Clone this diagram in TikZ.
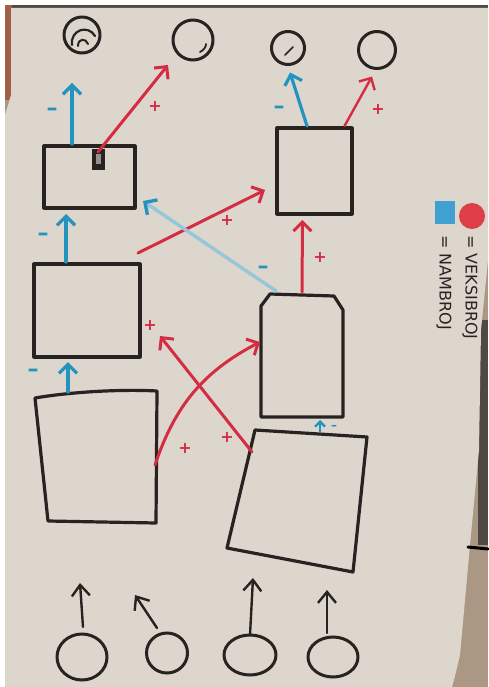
\documentclass[tikz,border=0pt]{standalone}
\usepackage{fontspec}
\setmainfont{DejaVu Sans}
\usetikzlibrary{arrows.meta,calc,shapes.geometric}
\definecolor{paper}{RGB}{221,214,205}
\definecolor{floorc}{RGB}{170,152,132}
\definecolor{darkedge}{RGB}{80,72,66}
\definecolor{finger}{RGB}{160,95,70}
\definecolor{ink}{RGB}{40,34,33}
\definecolor{rd}{RGB}{212,44,66}
\definecolor{bl}{RGB}{36,148,190}
\definecolor{lbl}{RGB}{150,198,218}
\definecolor{legblue}{RGB}{64,160,210}
\definecolor{legred}{RGB}{222,62,72}
\begin{document}
\begin{tikzpicture}[x=1pt,y=-1pt,line cap=round,line join=round,
  box/.style={draw=ink,line width=3.2pt,rectangle,inner sep=0pt,outer sep=0pt},
  ghost/.style={rectangle,inner sep=0pt,outer sep=0pt},
  ring/.style={draw=ink,line width=3pt,circle,inner sep=0pt,outer sep=0pt},
  oval/.style={draw=ink,line width=3pt,ellipse,inner sep=0pt,outer sep=0pt},
  barb/.style={-{Straight Barb[length=9pt,width=18pt]}},
  redarr/.style={draw=rd,line width=3pt,barb},
  bluearr/.style={draw=bl,line width=3.2pt,barb},
  paleblue/.style={draw=lbl,line width=3.4pt,-{Straight Barb[length=9pt,width=18pt,color=bl]}},
  inkarr/.style={draw=ink,line width=2.4pt,-{Straight Barb[length=11pt,width=18pt]}},
  plus/.style={text=rd,font=\fontsize{16}{16}\selectfont\bfseries,inner sep=0pt},
  minus/.style={text=bl,font=\fontsize{22}{22}\selectfont\bfseries,inner sep=0pt},
  legtext/.style={text=ink,font=\fontsize{16}{16}\selectfont,inner sep=0pt,rotate=-90,anchor=west}]
\useasboundingbox (0,0) rectangle (488,687);
% background and paper
\fill[floorc] (0,0) rectangle (488,687);
\fill[white] (0,0) rectangle (488,5);
\fill[white] (0,0) rectangle (5,687);
\fill[darkedge] (5,5) rectangle (488,9);
\fill[darkedge] (478,320) rectangle (488,545);
\fill[finger] (5,5) rectangle (12,100);
\fill[paper] (11,8) -- (488,8) -- (488,260) -- (481,330) -- (479,450) -- (470,545) -- (460,655) -- (455,676) -- (452,687) -- (5,687) -- (5,115) -- (11,95) -- cycle;
\draw[black,line width=3pt] (468,547) -- (488,549);

% top circles
\node[ring,minimum size=36pt] (t1) at (82,35) {};
\node[ring,minimum size=40pt] (t2) at (193,40) {};
\node[ring,minimum size=33pt] (t3) at (288,48) {};
\node[ring,minimum size=37pt] (t4) at (377,50) {};
\draw[ink,line width=2.2pt] (72,45) .. controls (70,30) and (88,24) .. (95,36);
\draw[ink,line width=2pt] (78,46) .. controls (78,38) and (86,38) .. (88,44);
\draw[ink,line width=1.8pt] (200,52) .. controls (204,50) and (206,47) .. (206,44);
\draw[ink,line width=1.6pt] (285,55) -- (293,47);

% boxes
\node[box,minimum width=91pt,minimum height=62pt] (b1) at (89.5,177) {};
\fill[ink] (92,149) rectangle (105,170);
\fill[darkedge!60] (96,154) rectangle (101,164);
\node[box,minimum width=75pt,minimum height=86pt] (b2) at (314.5,171) {};
\node[box,minimum width=106pt,minimum height=93pt] (b3) at (87,310.5) {};
\node[ghost,minimum width=120pt,minimum height=128pt] (b4) at (97,459) {};
\draw[ink,line width=3.2pt] (35,398) .. controls (70,392) and (120,389) .. (157,391) -- (156,523) -- (48,521) -- cycle;
\node[ghost,minimum width=82pt,minimum height=123pt] (b5) at (302,355.5) {};
\draw[ink,line width=3.2pt] (261,417) -- (261,306) -- (270,294) -- (334,296) -- (343,310) -- (343,417) -- cycle;
\node[ghost,minimum width=110pt,minimum height=120pt] (b6) at (297,497) {};
\draw[ink,line width=3.2pt] (255,430) -- (367,437) -- (353,572) -- (227,548) -- cycle;

% bottom circles
\node[oval,minimum width=50pt,minimum height=46pt] (e1) at (82,657) {};
\node[oval,minimum width=41pt,minimum height=40pt] (e2) at (167,653) {};
\node[oval,minimum width=52pt,minimum height=40pt] (e3) at (250,655) {};
\node[oval,minimum width=50pt,minimum height=40pt] (e4) at (333,657) {};
\coordinate (a1) at (80,583);
\coordinate (a2) at (135,595);
\coordinate (a3) at (253,578);
\coordinate (a4) at (327,590);
\draw[inkarr] ([xshift=1pt,yshift=7pt]e1.north) -- (a1);
\draw[inkarr] ([xshift=-10pt,yshift=5pt]e2.north) -- (a2);
\draw[inkarr] (e3.north) -- (a3);
\draw[inkarr] ([xshift=-6pt,yshift=4pt]e4.north) -- (a4);

% connectors
\draw[bluearr] ([xshift=-17.5pt,yshift=2pt]b1.north) -- ([xshift=-10pt,yshift=-30pt]t1.south);
\node[minus] at (52,112) {–};
\draw[redarr] ([xshift=8.5pt,yshift=-6pt]b1.north) -- ([xshift=-25pt,yshift=-25pt]t2.center);
\node[plus] at (155,106) {+};
\draw[bluearr] ([xshift=-7.5pt,yshift=2pt]b2.north) -- ([xshift=2pt,yshift=-8pt]t3.south);
\node[minus] at (279,110) {–};
\draw[redarr,line width=2.4pt] ([xshift=30pt,yshift=2pt]b2.north) -- ([xshift=-5pt,yshift=-8pt]t4.south);
\node[plus] at (378,109) {+};
\draw[bluearr] ([xshift=-21pt,yshift=2pt]b3.north) -- ([xshift=-23.5pt,yshift=-6pt]b1.south);
\node[minus] at (43,237) {–};
\draw[bluearr] ([xshift=-29pt,yshift=3pt]b4.north) -- ([xshift=-19pt,yshift=-5pt]b3.south);
\node[minus] at (33,373) {–};
\draw[redarr] ([xshift=-2pt,yshift=11pt]b3.north east) -- ([xshift=-12pt,yshift=-19pt]b2.west);
\node[plus] at (227,220) {+};
\draw[paleblue] ([xshift=15pt,yshift=3pt]b5.north west) -- ([xshift=8pt,yshift=7pt]b1.south east);
\node[minus] at (263,270) {–};
\draw[redarr] ([yshift=2pt]b5.north) -- ([xshift=-12pt,yshift=-6pt]b2.south);
\node[plus] at (320,257) {+};
\draw[draw=bl,line width=2.4pt,-{Straight Barb[length=5pt,width=10pt]}] ([xshift=23pt,yshift=5pt]b6.north) -- ([xshift=18pt,yshift=-3pt]b5.south);
\node[minus,font=\fontsize{12}{12}\selectfont\bfseries] at (334,427) {–};
\draw[redarr] ([xshift=-2pt,yshift=-6pt]b4.east) to[bend left=22] ([xshift=-1pt,yshift=13.5pt]b5.west);
\node[plus] at (185,448) {+};
\draw[redarr] ([xshift=10pt,yshift=-15pt]b6.north west) -- ([xshift=20pt,yshift=-25.5pt]b3.east);
\node[plus] at (150,325) {+};
\node[plus] at (227,437) {+};

% legend
\node[fill=legblue,minimum width=20pt,minimum height=23pt,inner sep=0pt] (lb) at (445,212) {};
\node[fill=legred,circle,minimum size=26pt,inner sep=0pt] (lr) at (472,216) {};
\node[legtext] (lt1) at (470,235) {= VEKSIBROJ};
\node[legtext] (lt2) at (444,235) {= NAMBROJ};
\end{tikzpicture}
\end{document}
